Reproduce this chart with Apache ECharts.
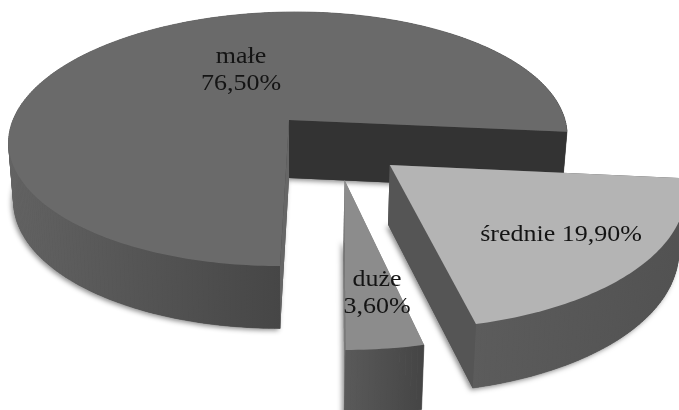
<!DOCTYPE html>
<html>
<head>
<meta charset="utf-8">
<style>html,body{margin:0;padding:0;background:#fff}#chart{width:679px;height:410px}</style>
<script src="https://cdn.jsdelivr.net/npm/echarts@6/dist/echarts.min.js"></script>
</head>
<body>
<div id="chart"></div>
<script>
// Udział przedsiębiorstw według wielkości
const categories = ['małe', 'średnie', 'duże'];
const shares = [76.5, 19.9, 3.6];

// Perspective of the disc: plane coordinates (u, v) go to the screen
const view = { cx: 289, cy: 120, ax: 276, ay: 124.2, shear: -7.65, k: 0.1496, depth: 58, shrink: 0.018 };
const firstAngle = 90;   // clockwise on screen, 0 = to the right

// Per-slice look: displacement in plane units, label anchor in plane units
const looks = [
  { move: [0, 0], label: [-0.196, -0.42], top: '#6a6a6a', cut: ['#666666', '#333333'], openFirst: false,
    wall: ['#626262', '#464646'], wallX: [14, 282] },
  { move: [0.356, 0.344], label: [0.888, 0.814], top: '#b4b4b4', cut: ['#555555', '#555555'], openFirst: true,
    wall: ['#5c5c5c', '#525252'], wallX: [470, 679] },
  { move: [0.2, 0.45], label: [0.296, 1.154], top: '#8c8c8c', cut: ['#7a7a7a', '#7a7a7a'], openFirst: true,
    wall: ['#5a5a5a', '#454545'], wallX: [345, 422] }
];

function project(u, v) {
  const w = 1 - view.k * v;
  return [view.cx + (view.ax * u + view.shear * v) / w, view.cy + view.ay * v / w];
}
function lower(u, v) {
  const w = 1 - view.k * v;
  const p = project(u, v);
  return [
    p[0] + (view.cx - p[0]) * view.shrink,
    p[1] + (view.cy - p[1]) * view.shrink + view.depth / Math.pow(w, 0.7)
  ];
}
function planePoints(move, from, to) {
  const out = [];
  const steps = Math.max(2, Math.ceil(Math.abs(to - from)));
  for (let i = 0; i <= steps; i++) {
    const a = (from + (to - from) * i / steps) * Math.PI / 180;
    out.push([move[0] + Math.cos(a), move[1] + Math.sin(a)]);
  }
  return out;
}
function poly(points, fill, extra) {
  return {
    type: 'polygon', silent: true,
    shape: { points: points },
    style: Object.assign({ fill: fill }, extra || {})
  };
}

const total = shares.reduce((s, x) => s + x, 0);
const edge = { shadowBlur: 5, shadowColor: 'rgba(0,0,0,0.45)', shadowOffsetX: -2, shadowOffsetY: 2 };

function renderSlice(params, api) {
  const idx = params.dataIndex;
  const look = looks[idx];
  let before = 0;
  for (let i = 0; i < idx; i++) before += shares[i];
  const from = firstAngle + before / total * 360;
  const to = from + api.value(0) / total * 360;
  const m = look.move;
  const arc = planePoints(m, from, to);
  const endA = arc[arc.length - 1];
  const startA = arc[0];
  const children = [];
  const rimFill = {
    type: 'linear', x: look.wallX[0], y: 0, x2: look.wallX[1], y2: 0, global: true,
    colorStops: [{ offset: 0, color: look.wall[0] }, { offset: 1, color: look.wall[1] }]
  };
  const openWall = poly([project(m[0], m[1]), project(startA[0], startA[1]),
    lower(startA[0], startA[1]), lower(m[0], m[1])], look.cut[0]);
  const closeWall = poly([project(m[0], m[1]), project(endA[0], endA[1]),
    lower(endA[0], endA[1]), lower(m[0], m[1])], look.cut[1]);

  // soft shadow under the whole slice outline
  const foot = [lower(m[0], m[1])].concat(arc.map(p => lower(p[0], p[1])));
  children.push(poly(foot, look.wall[1], edge));
  // the radial wall turned away from the viewer goes behind the rim
  if (look.openFirst) children.push(openWall);
  // rim of the slice, one strip per degree
  for (let i = 0; i + 1 < arc.length; i++) {
    const a = arc[i], b = arc[i + 1];
    children.push(poly([project(a[0], a[1]), project(b[0], b[1]), lower(b[0], b[1]), lower(a[0], a[1])],
      rimFill, { stroke: rimFill, lineWidth: 0.6 }));
  }
  children.push(closeWall);
  if (!look.openFirst) children.push(openWall);
  // top face
  const face = [project(m[0], m[1])].concat(arc.map(p => project(p[0], p[1])));
  children.push(poly(face, look.top));
  // label
  const at = project(look.label[0], look.label[1]);
  const pct = api.value(0).toFixed(2).replace('.', ',') + '%';
  const text = idx === 1 ? categories[idx] + ' ' + pct : categories[idx] + '\n' + pct;
  children.push({
    type: 'text', silent: true, x: at[0], y: at[1], scaleX: 1.13,
    style: {
      text: text, fill: '#141414', align: 'center', verticalAlign: 'middle',
      font: '23px "Liberation Serif", serif', lineHeight: 27
    }
  });
  return { type: 'group', children: children };
}

const chart = echarts.init(document.getElementById('chart'), null, { renderer: 'canvas' });
chart.setOption({
  animation: false,
  backgroundColor: '#ffffff',
  tooltip: { show: false },
  series: [{
    type: 'custom',
    coordinateSystem: 'none',
    silent: true,
    clip: false,
    renderItem: renderSlice,
    data: shares.map((v, i) => ({ name: categories[i], value: [v] }))
  }]
});
</script>
</body>
</html>
